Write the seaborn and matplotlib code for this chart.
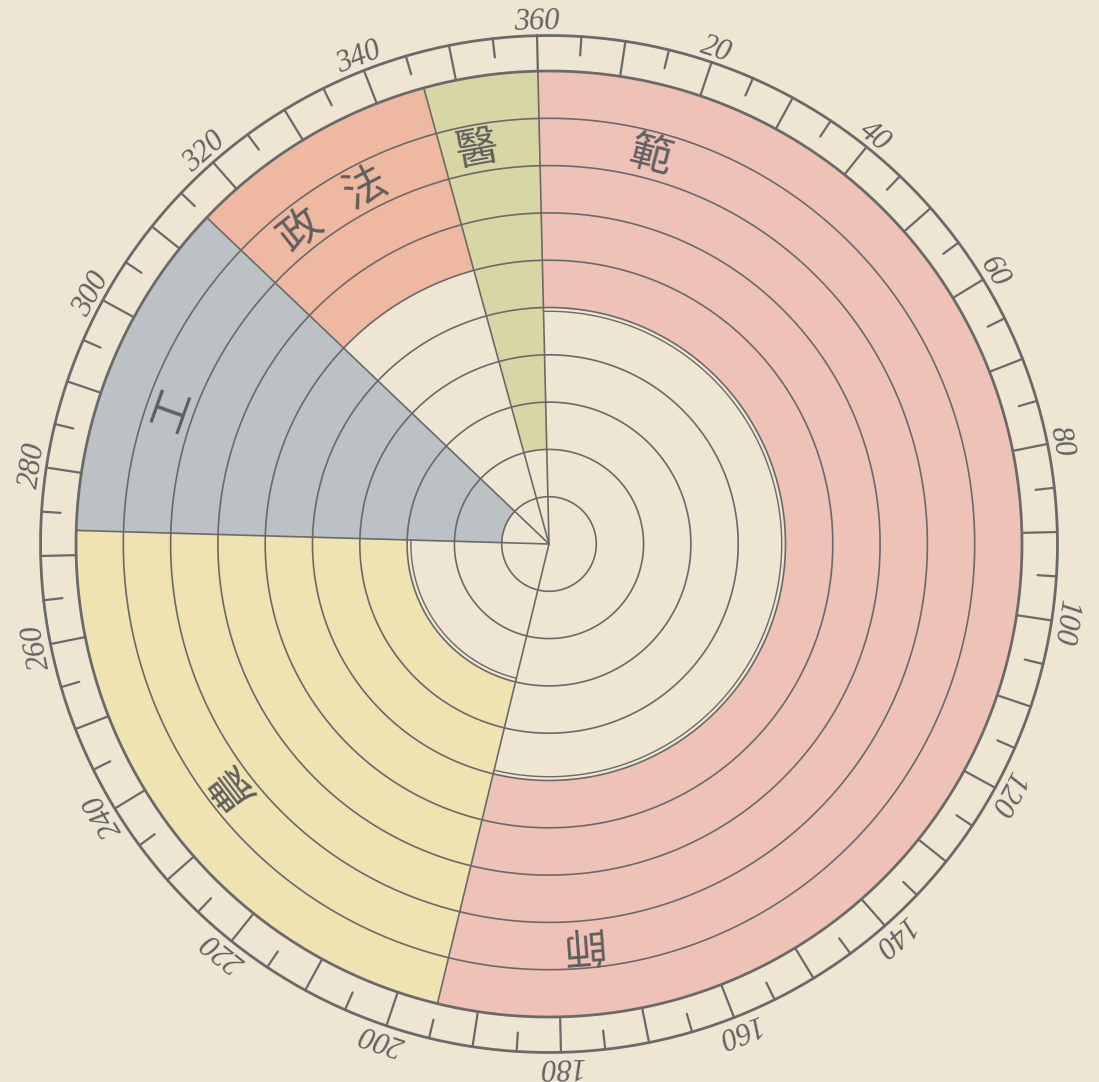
import numpy as np
import matplotlib
matplotlib.use('Agg')
import matplotlib.pyplot as plt
import seaborn as sns

# sectors, clockwise from the top, degrees
fields = ['師範', '農', '工', '法政', '醫']
start_deg = [0, 195, 273, 315, 346]
span_deg = [195, 78, 42, 31, 14]
inner_r = [5, 3, 1, 6, 2]
outer_r = [10, 10, 10, 10, 10]
colors = ['#efc2b7', '#eee3b1', '#bbc1c4', '#eeb9a0', '#d9d6a6']

# characters written in the sectors
label_chars = ['範', '師', '農', '工', '政', '法', '醫']
label_deg = [16, 177, 234, 291, 323, 334, 351]

scale_ticks = list(range(20, 361, 20))
scale_labels = [str(t) for t in scale_ticks]

bg = '#eee5d3'
ink = '#6a6a6a'
tilt = 1.35  # the print is turned a little

sns.set_theme(style='white', rc={'axes.facecolor': bg, 'figure.facecolor': bg})
plt.rcParams['font.family'] = ['Noto Sans CJK TC', 'DejaVu Sans']

fig = plt.figure(figsize=(10.99, 10.82), dpi=100)
R = 11.3
px = 47.3 * R * 2
ax = fig.add_axes([(549 - px / 2) / 1099, (538 - px / 2) / 1082, px / 1099, px / 1082],
                  projection='polar')
ax.set_theta_direction(-1)
ax.set_theta_zero_location('N', offset=tilt)
ax.set_ylim(0, R)
ax.grid(False)
ax.set_xticks([])
ax.set_yticks([])
ax.spines['polar'].set_visible(False)
ax.set_facecolor('none')

# coloured sectors
for s, w, r0, r1, c in zip(start_deg, span_deg, inner_r, outer_r, colors):
    ax.bar(np.deg2rad(s), r1 - r0, width=np.deg2rad(w), bottom=r0,
           align='edge', color=c, edgecolor='none', zorder=1)

# rings
full = np.linspace(0, 2 * np.pi, 1441)
for r in range(1, 10):
    ax.plot(full, np.full_like(full, r), color=ink, lw=1.2, zorder=3)
ax.plot(full, np.full_like(full, 10), color=ink, lw=2.0, zorder=3)
ax.plot(full, np.full_like(full, 10.75), color=ink, lw=2.0, zorder=3)

# double line on the inner edge of two sectors
for i in [0, 1]:
    arc = np.linspace(np.deg2rad(start_deg[i]), np.deg2rad(start_deg[i] + span_deg[i]), 400)
    ax.plot(arc, np.full_like(arc, inner_r[i] - 0.08), color=ink, lw=1.0, zorder=3)

# radial boundaries
for s in start_deg:
    t = np.deg2rad(s)
    ax.plot([t, t], [0, 10], color=ink, lw=1.2, zorder=3)

# degree scale
for d in range(0, 360, 5):
    t = np.deg2rad(d)
    if d % 10 == 0:
        ax.plot([t, t], [10, 10.75], color=ink, lw=1.6, zorder=3)
    else:
        ax.plot([t, t], [10.35, 10.75], color=ink, lw=1.6, zorder=3)

for d, lab in zip(scale_ticks, scale_labels):
    ax.text(np.deg2rad(d), 11.03, lab, rotation=tilt - d, rotation_mode='anchor',
            ha='center', va='center', fontsize=22, style='italic',
            family=['Liberation Serif'], color='#626262', clip_on=False)

for ch, d in zip(label_chars, label_deg):
    ax.text(np.deg2rad(d), 8.45, ch, rotation=tilt - d, rotation_mode='anchor',
            ha='center', va='center', fontsize=31, color='#5f5f5f', zorder=4)

fig.savefig('out.png', dpi=100, facecolor=bg)
